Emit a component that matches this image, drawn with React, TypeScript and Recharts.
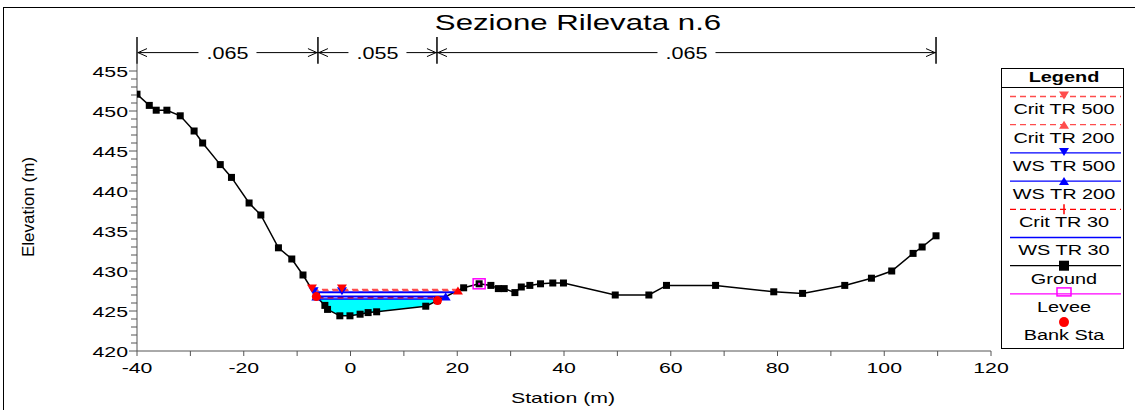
import React from 'react';
import { ComposedChart, Line, Area, XAxis, YAxis, ReferenceLine } from 'recharts';

// ground profile
const groundStation = [
  -40, -37.7, -36.4, -34.4, -31.9, -29.3, -27.7, -24.4, -22.3, -19.0, -16.8, -13.5, -11.0, -8.9,
  -6.4, -4.8, -4.3, -2.0, -0.1, 1.8, 3.3, 4.9, 14.1, 16.3, 21.2, 24.1, 26.3, 27.7, 28.8, 30.8,
  32.0, 33.6, 35.6, 37.9, 39.9, 49.6, 55.9, 59.2, 68.4, 79.3, 84.7, 92.6, 97.6, 101.4, 105.4,
  107.1, 109.7,
];
const groundElev = [
  452.1, 450.7, 450.1, 450.1, 449.4, 447.5, 446.0, 443.3, 441.7, 438.5, 437.0, 432.9, 431.5, 429.5,
  426.8, 425.7, 425.2, 424.4, 424.4, 424.6, 424.8, 424.9, 425.6, 426.3, 427.9, 428.4, 428.2, 427.8,
  427.8, 427.3, 428.0, 428.2, 428.4, 428.5, 428.5, 427.0, 427.0, 428.2, 428.2, 427.4, 427.2, 428.2,
  429.1, 430.0, 432.2, 433.0, 434.4,
];

// water surfaces: [left station, right station, elevation]
const critTR500 = [-7.23, 20.58, 427.7];
const critTR200 = [-7.09, 20.13, 427.55];
const wsTR500 = [-6.91, 19.51, 427.35];
const wsTR200 = [-6.4, 17.83, 426.8];
const critTR30 = [-6.18, 17.37, 426.65];
const wsTR30 = [-5.96, 16.91, 426.5];

const bankStations = [-6.4, 16.3];
const bankElev = [426.8, 426.3];
const leveeStation = [24.1];
const leveeElev = [428.4];

// Manning's n zones
const nBreaks = [-40, -6.1, 16.2, 109.7];
const nValues = ['.065', '.055', '.065'];

const xTicks = [-40, -30, -20, -10, 0, 10, 20, 30, 40, 50, 60, 70, 80, 90, 100, 110, 120];
const yTicks = Array.from({ length: 36 }, (_, i) => 420 + i);

const FONT = '"Liberation Sans", Arial, sans-serif';
const SX = 1.42;

const ground = groundStation.map((x, i) => ({ x, y: groundElev[i] }));
const wsLine = (w: number[]) => [{ x: w[0], y: w[2] }, { x: w[1], y: w[2] }];
const fillTR30 = [
  { x: wsTR30[0], range: [wsTR30[2], wsTR30[2]] },
  ...ground.filter(p => p.x > wsTR30[0] && p.x < wsTR30[1]).map(p => ({ x: p.x, range: [p.y, wsTR30[2]] })),
  { x: wsTR30[1], range: [wsTR30[2], wsTR30[2]] },
];
const banks = bankStations.map((x, i) => ({ x, y: bankElev[i] }));
const levee = leveeStation.map((x, i) => ({ x, y: leveeElev[i] }));
const critTR500Marks = [{ x: critTR500[0], y: critTR500[2] }, { x: -1.6, y: critTR500[2] }];
const critTR200Marks = [{ x: critTR200[1], y: critTR200[2] }];
const wsTR500Marks = [{ x: wsTR500[0], y: wsTR500[2] }, { x: -1.6, y: wsTR500[2] }];
const wsTR200Marks = [{ x: wsTR200[0], y: wsTR200[2] }, { x: wsTR200[1], y: wsTR200[2] }];

const triDown = (color: string) => (p: any) =>
  p.cx == null ? <g key={p.index} /> : (
    <path key={p.index} d={`M${p.cx - 5},${p.cy - 5} L${p.cx + 5},${p.cy - 5} L${p.cx},${p.cy + 3} Z`} fill={color} />
  );
const triUp = (color: string) => (p: any) =>
  p.cx == null ? <g key={p.index} /> : (
    <path key={p.index} d={`M${p.cx - 5},${p.cy + 4} L${p.cx + 5},${p.cy + 4} L${p.cx},${p.cy - 4} Z`} fill={color} />
  );
const squareDot = (p: any) =>
  p.cx == null ? <g key={p.index} /> : <rect key={p.index} x={p.cx - 3.5} y={p.cy - 3.5} width={7} height={7} fill="#000" />;
const bankDot = (p: any) =>
  p.cx == null ? <g key={p.index} /> : <circle key={p.index} cx={p.cx} cy={p.cy} r={4.5} fill="#ff0000" />;
const leveeDot = (p: any) =>
  p.cx == null ? <g key={p.index} /> : (
    <g key={p.index}>
      <rect x={p.cx - 6} y={p.cy - 5} width={12} height={10} fill="none" stroke="#ff00ff" strokeWidth={1.5} />
      <rect x={p.cx - 1} y={p.cy - 1} width={2} height={2} fill="#ff00ff" />
    </g>
  );

const YTick = (props: any) => {
  const { x, y, payload } = props;
  const major = payload.value % 5 === 0;
  return (
    <g>
      <line x1={x - (major ? 8 : 6)} x2={x} y1={y} y2={y} stroke="#555" />
      {major && (
        <text transform={`translate(${x - 9},${y + 1}) scale(${SX},1)`} textAnchor="end" dominantBaseline="central"
          fontSize={15} fontFamily={FONT} fill="#000">{payload.value}</text>
      )}
    </g>
  );
};

const XTick = (props: any) => {
  const { x, y, payload } = props;
  const major = payload.value % 20 === 0;
  return (
    <g>
      <line x1={x} x2={x} y1={y} y2={y + 5} stroke="#555" />
      {major && (
        <text transform={`translate(${x},${y + 17}) scale(${SX},1)`} textAnchor="middle" dominantBaseline="central"
          fontSize={15} fontFamily={FONT} fill="#000">{payload.value}</text>
      )}
    </g>
  );
};

// horizontal dimension line with arrows and the n value in a gap
const NSpan = (props: any) => {
  const { x1, x2, y1, text } = props;
  const cx = (x1 + x2) / 2;
  return (
    <g>
      <line x1={x1} x2={cx - 29} y1={y1} y2={y1} stroke="#000" />
      <line x1={cx + 29} x2={x2} y1={y1} y2={y1} stroke="#000" />
      <polyline points={`${x1 + 10},${y1 - 4} ${x1 + 1},${y1} ${x1 + 10},${y1 + 4}`} fill="none" stroke="#000" />
      <polyline points={`${x2 - 10},${y1 - 4} ${x2 - 1},${y1} ${x2 - 10},${y1 + 4}`} fill="none" stroke="#000" />
      <text transform={`translate(${cx},${y1 + 1}) scale(1.35,1)`} textAnchor="middle" dominantBaseline="central"
        fontSize={16} fontFamily={FONT} fill="#000">{text}</text>
    </g>
  );
};

const legendItems = [
  { label: 'Crit TR 500', color: '#ff4d4d', dash: '6 4', marker: 'down' },
  { label: 'Crit TR 200', color: '#ff4d4d', dash: '6 4', marker: 'up' },
  { label: 'WS TR 500', color: '#0000ff', dash: '', marker: 'down' },
  { label: 'WS TR 200', color: '#0000ff', dash: '', marker: 'up' },
  { label: 'Crit TR 30', color: '#ff0000', dash: '6 4', marker: 'plus' },
  { label: 'WS TR 30', color: '#0000ff', dash: '', marker: '' },
  { label: 'Ground', color: '#000', dash: '', marker: 'square' },
  { label: 'Levee', color: '#ff00ff', dash: '', marker: 'open' },
  { label: 'Bank Sta', color: '', dash: '', marker: 'circle' },
];

const LegendMarker = ({ m, x, y, color }: any) => {
  if (m === 'down') return <path d={`M${x - 5},${y - 5} L${x + 5},${y - 5} L${x},${y + 3} Z`} fill={color} />;
  if (m === 'up') return <path d={`M${x - 5},${y + 4} L${x + 5},${y + 4} L${x},${y - 4} Z`} fill={color} />;
  if (m === 'plus') return <path d={`M${x},${y - 5} L${x},${y + 5}`} stroke={color} strokeWidth={1.5} />;
  if (m === 'square') return <rect x={x - 5} y={y - 5} width={10} height={10} fill="#000" />;
  if (m === 'open') return <rect x={x - 7} y={y - 6} width={14} height={8} fill="none" stroke="#ff00ff" strokeWidth={1.5} />;
  if (m === 'circle') return <circle cx={x} cy={y} r={5} fill="#ff0000" />;
  return null;
};

export default function App() {
  return (
    <div style={{ position: 'absolute', left: 0, top: 0, width: 1135, height: 410, overflow: 'hidden', background: '#fff' }}>
      <ComposedChart width={1135} height={410} margin={{ top: 37, right: 144, bottom: 29, left: 77 }}>
        <XAxis type="number" dataKey="x" domain={[-40, 120]} ticks={xTicks} interval={0} allowDataOverflow
          height={30} tickSize={0} tickMargin={0} tick={<XTick />} axisLine={{ stroke: '#555' }} tickLine={false} />
        <YAxis type="number" dataKey="y" domain={[420, 459.25]} ticks={yTicks} interval={0} allowDataOverflow
          width={60} tickSize={0} tickMargin={0} tick={<YTick />} axisLine={{ stroke: '#555' }} tickLine={false} />

        <Area data={fillTR30} dataKey="range" type="linear" fill="#00ffff" fillOpacity={1} stroke="none"
          isAnimationActive={false} dot={false} activeDot={false} />

        <Line data={ground} dataKey="y" type="linear" stroke="#000" strokeWidth={1.5} dot={squareDot}
          activeDot={false} isAnimationActive={false} />

        <Line data={wsLine(wsTR30)} dataKey="y" type="linear" stroke="#0000ff" strokeWidth={1.5} dot={false} activeDot={false} isAnimationActive={false} />
        <Line data={wsLine(critTR30)} dataKey="y" type="linear" stroke="#ff0000" strokeWidth={1.5} strokeDasharray="6 4" dot={false} activeDot={false} isAnimationActive={false} />
        <Line data={wsLine(wsTR200)} dataKey="y" type="linear" stroke="#0000ff" strokeWidth={2} dot={false} activeDot={false} isAnimationActive={false} />
        <Line data={wsLine(wsTR500)} dataKey="y" type="linear" stroke="#0000ff" strokeWidth={2} dot={false} activeDot={false} isAnimationActive={false} />
        <Line data={wsLine(critTR200)} dataKey="y" type="linear" stroke="#ff4d4d" strokeWidth={1.5} strokeDasharray="6 4" dot={false} activeDot={false} isAnimationActive={false} />
        <Line data={wsLine(critTR500)} dataKey="y" type="linear" stroke="#ff4d4d" strokeWidth={1.5} strokeDasharray="6 4" dot={false} activeDot={false} isAnimationActive={false} />

        <Line data={wsTR200Marks} dataKey="y" stroke="none" dot={triUp('#0000ff')} activeDot={false} isAnimationActive={false} />
        <Line data={wsTR500Marks} dataKey="y" stroke="none" dot={triDown('#0000ff')} activeDot={false} isAnimationActive={false} />
        <Line data={critTR200Marks} dataKey="y" stroke="none" dot={triUp('#ff0000')} activeDot={false} isAnimationActive={false} />
        <Line data={critTR500Marks} dataKey="y" stroke="none" dot={triDown('#ff0000')} activeDot={false} isAnimationActive={false} />
        <Line data={banks} dataKey="y" stroke="none" dot={bankDot} activeDot={false} isAnimationActive={false} />
        <Line data={levee} dataKey="y" stroke="none" dot={leveeDot} activeDot={false} isAnimationActive={false} />

        {nBreaks.map(b => (
          <ReferenceLine key={`nb-${b}`} ifOverflow="visible" stroke="#000" strokeWidth={1.5}
            segment={[{ x: b, y: 459.25 }, { x: b, y: 455.9 }]} />
        ))}
        {nValues.map((v, i) => (
          <ReferenceLine key={`nv-${i}`} ifOverflow="visible"
            segment={[{ x: nBreaks[i], y: 457.3 }, { x: nBreaks[i + 1], y: 457.3 }]}
            shape={(p: any) => <NSpan {...p} text={v} />} />
        ))}
      </ComposedChart>

      <svg width={1135} height={410} style={{ position: 'absolute', left: 0, top: 0, pointerEvents: 'none' }}>
        <rect x={3.5} y={7.5} width={1140} height={420} fill="none" stroke="#000" />
        <text transform={`translate(578,23) scale(${SX},1)`} textAnchor="middle" dominantBaseline="central"
          fontSize={22} fontFamily={FONT} fill="#000">Sezione Rilevata n.6</text>
        <text transform={`translate(563,398) scale(${SX},1)`} textAnchor="middle" dominantBaseline="central"
          fontSize={15} fontFamily={FONT} fill="#000">Station (m)</text>
        <text transform="translate(28,207) rotate(-90)" textAnchor="middle" dominantBaseline="central"
          fontSize={17} fontFamily={FONT} fill="#000">Elevation (m)</text>

        <rect x={1001.5} y={68.5} width={122} height={280} fill="#fff" stroke="#000" />
        <line x1={1001.5} x2={1123.5} y1={87.5} y2={87.5} stroke="#000" />
        <text transform={`translate(1064,77) scale(${SX},1)`} textAnchor="middle" dominantBaseline="central"
          fontSize={14} fontWeight="bold" fontFamily={FONT} fill="#000">Legend</text>
        {legendItems.map((it, i) => {
          const ly = 96.5 + i * 28.2;
          return (
            <g key={it.label}>
              {it.color && (
                <line x1={1010} x2={1121} y1={ly} y2={ly} stroke={it.color} strokeWidth={1.3}
                  strokeDasharray={it.dash || undefined} />
              )}
              <LegendMarker m={it.marker} x={1064} y={ly} color={it.color} />
              <text transform={`translate(1064,${ly + 13}) scale(${SX},1)`} textAnchor="middle" dominantBaseline="central"
                fontSize={14} fontFamily={FONT} fill="#000">{it.label}</text>
            </g>
          );
        })}
      </svg>
    </div>
  );
}
